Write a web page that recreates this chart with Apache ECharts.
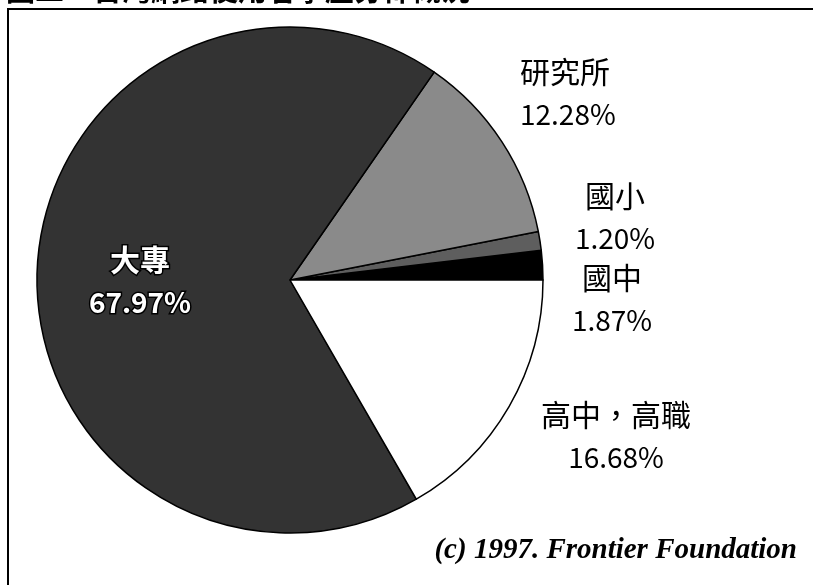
<!DOCTYPE html>
<html>
<head>
<meta charset="utf-8">
<script src="https://cdn.jsdelivr.net/npm/echarts@6/dist/echarts.min.js"></script>
<style>
html,body{margin:0;padding:0;background:#fff;}
#chart{width:813px;height:585px;}
</style>
</head>
<body>
<div id="chart"></div>
<script>
// Data (counter-clockwise from 3 o'clock)
const categories = ['國中', '國小', '研究所', '大專', '高中，高職'];
const shares = [1.87, 1.20, 12.28, 67.97, 16.68];
const titleText = '圖二　台灣網路使用者學歷分佈概況';
const sourceText = '(c) 1997. Frontier Foundation';

const sliceColors = ['#000000', '#5e5e5e', '#8a8a8a', '#333333', '#ffffff'];
const labelSpots = [
  {x: 612, y: 299, align: 'center'},
  {x: 615, y: 217, align: 'center'},
  {x: 520, y: 93, align: 'left'},
  {x: 140, y: 281, align: 'center'},
  {x: 616, y: 436, align: 'center'}
];

const chart = echarts.init(document.getElementById('chart'));
const option = {
  backgroundColor: '#ffffff',
  animation: false,
  graphic: [
    {type: 'rect', shape: {x: 8, y: 9, width: 900, height: 700},
     style: {fill: 'none', stroke: '#000', lineWidth: 2}, silent: true},
    {type: 'text', x: 6, y: 4,
     style: {text: titleText, font: 'bold 29px "Noto Sans CJK TC"', fill: '#000', textVerticalAlign: 'bottom'}, silent: true},
    {type: 'text', right: 16, top: 536,
     style: {text: sourceText, font: 'italic bold 29px "Liberation Serif"', fill: '#000'}, silent: true}
  ],
  series: [{
    type: 'pie',
    center: [290, 280],
    radius: 253,
    startAngle: 0,
    clockwise: false,
    avoidLabelOverlap: false,
    data: categories.map((c, i) => ({
      name: c,
      value: shares[i],
      itemStyle: {color: sliceColors[i]},
      label: i === 3 ? {
        rich: {
          n: {fontSize: 30, fontWeight: 'bold', lineHeight: 43, color: '#fff', textBorderColor: '#000', textBorderWidth: 3, fontFamily: '"Noto Sans CJK TC"'},
          v: {fontSize: 28, fontWeight: 'bold', lineHeight: 43, color: '#fff', textBorderColor: '#000', textBorderWidth: 3, fontFamily: '"Noto Sans CJK TC"'}
        }
      } : {}
    })),
    itemStyle: {borderColor: '#000', borderWidth: 1.5},
    label: {
      show: true,
      position: 'outside',
      formatter: p => '{n|' + p.name + '}\n{v|' + p.value.toFixed(2) + '%}',
      rich: {
        n: {fontSize: 30, lineHeight: 43, color: '#000', fontFamily: '"Noto Sans CJK TC"'},
        v: {fontSize: 28, lineHeight: 43, color: '#000', fontFamily: '"Noto Sans CJK TC"'}
      }
    },
    labelLine: {show: false},
    labelLayout: function (params) {
      const s = labelSpots[params.dataIndex];
      return {x: s.x, y: s.y, align: s.align, verticalAlign: 'middle'};
    },
    emphasis: {disabled: true}
  }]
};
chart.setOption(option);
</script>
</body>
</html>
